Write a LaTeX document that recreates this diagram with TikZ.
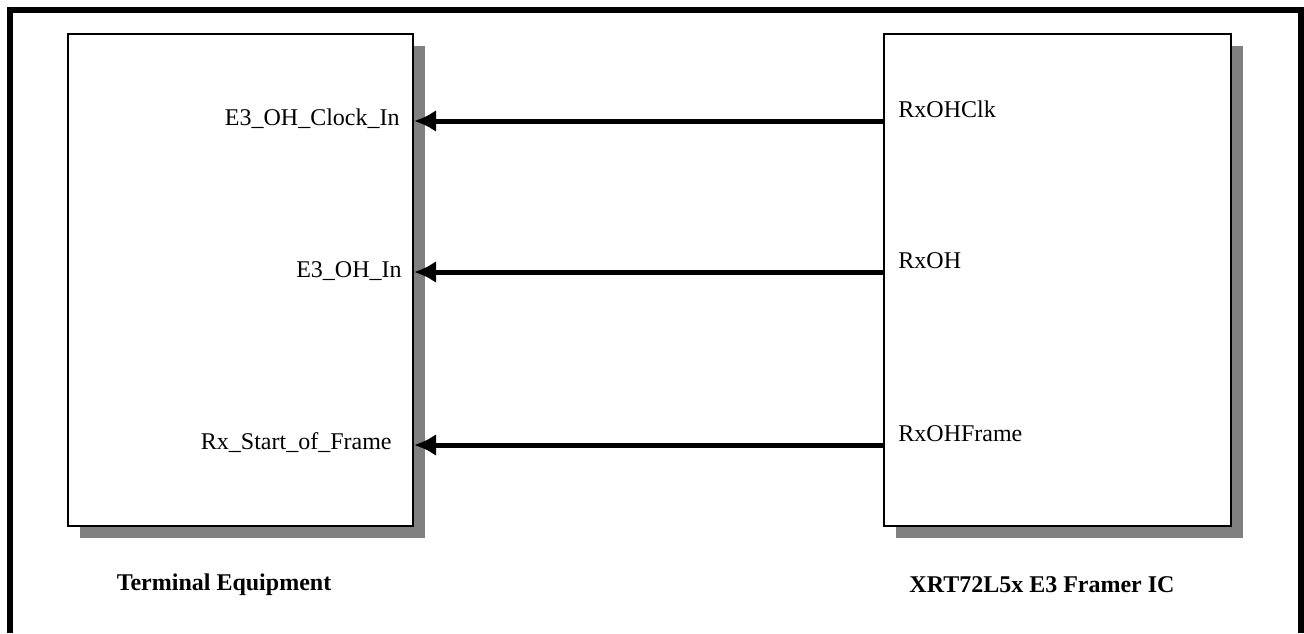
\documentclass[tikz,border=0pt]{standalone}
\usepackage{fontspec}
\setmainfont{Liberation Serif}
\usetikzlibrary{arrows.meta,shadows}

\begin{document}
\begin{tikzpicture}[
    x=0.5pt, y=-0.5pt,
    chip/.style={draw, line width=1pt, fill=white, minimum height=246pt, inner sep=0pt,
        drop shadow={shadow xshift=6pt, shadow yshift=-6pt, fill=black!50, opacity=1}},
    pin/.style={inner sep=0pt, font=\fontsize{12}{14}\selectfont},
    title/.style={inner sep=0pt, font=\fontsize{12}{14}\selectfont\bfseries},
    sig/.style={-{Latex[length=11pt, width=11pt]}, line width=2.5pt},
    frame/.style={line width=3pt, line join=miter}
]
\useasboundingbox (0,0) rectangle (1304,633);
\draw[frame] (9.5,633) -- (9.5,9.5) -- (1300.5,9.5) -- (1300.5,633);

\node[chip, minimum width=172.5pt] (term) at (240.5,280) {};
\node[chip, minimum width=173.5pt] (framer) at (1057.5,280) {};

\node[pin, anchor=east] (clkin) at (400,119) {E3\_OH\_Clock\_In};
\node[pin, anchor=east] (ohin) at (402,271) {E3\_OH\_In};
\node[pin, anchor=east] (sof) at (392,443) {Rx\_Start\_of\_Frame};

\node[pin, anchor=west] (ohclk) at (898,109) {RxOHClk};
\node[pin, anchor=west] (oh) at (898,261) {RxOH};
\node[pin, anchor=west] (ohframe) at (898,434) {RxOHFrame};

\coordinate (a1) at (0,121);
\coordinate (a2) at (0,272);
\coordinate (a3) at (0,445);
\draw[sig] (framer.west |- a1) -- (term.east |- a1);
\draw[sig] (framer.west |- a2) -- (term.east |- a2);
\draw[sig] (framer.west |- a3) -- (term.east |- a3);

\node[title] (termname) at (224,585) {Terminal Equipment};
\node[title] (framername) at (1042,585) {XRT72L5x E3 Framer IC};
\end{tikzpicture}
\end{document}
